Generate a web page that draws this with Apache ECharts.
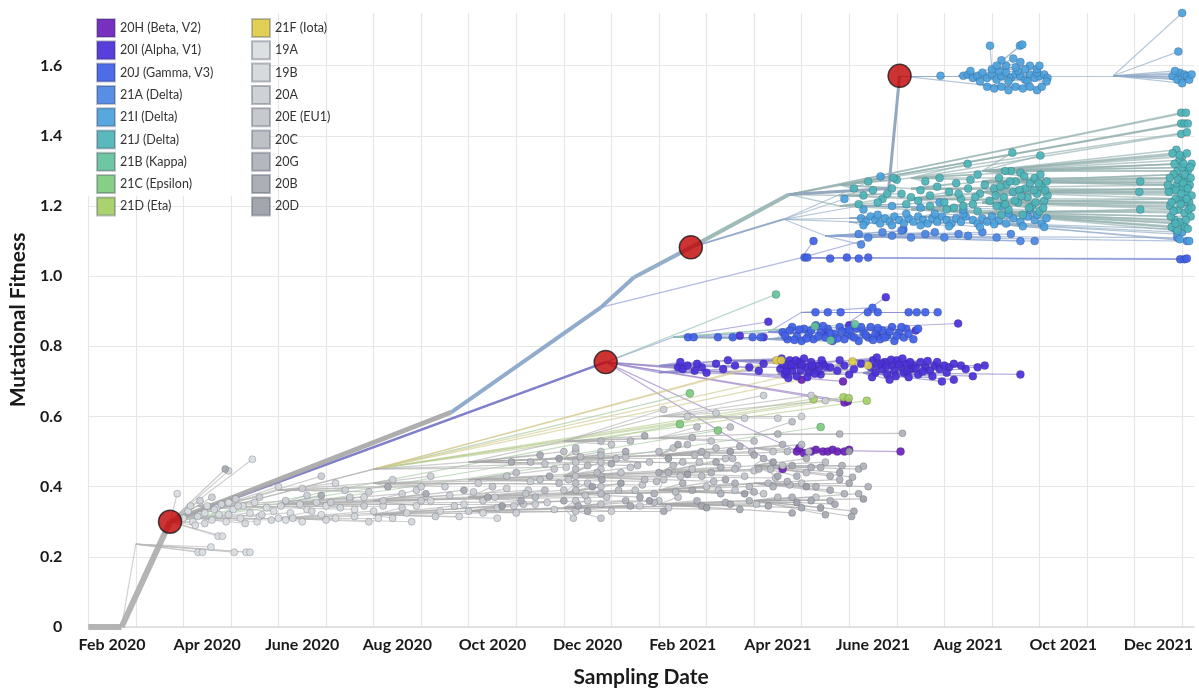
<!DOCTYPE html>
<html><head><meta charset="utf-8">
<script src="https://cdn.jsdelivr.net/npm/echarts@6/dist/echarts.min.js"></script>
<style>html,body{margin:0;padding:0;background:#fff}#c{width:1199px;height:693px}</style>
</head><body><div id="c"></div>
<script>
// x = months since 1 Jan 2020 (1 = 1 Feb 2020, 24 = 1 Jan 2022); y = mutational fitness
const xTickLabels = ['Feb 2020','Apr 2020','June 2020','Aug 2020','Oct 2020','Dec 2020','Feb 2021','Apr 2021','June 2021','Aug 2021','Oct 2021','Dec 2021'];
const xTickPos = [1.5,3.5,5.5,7.5,9.5,11.5,13.5,15.5,17.5,19.5,21.5,23.5];

const legendCol1 = ['20H (Beta, V2)','20I (Alpha, V1)','20J (Gamma, V3)','21A (Delta)','21I (Delta)','21J (Delta)','21B (Kappa)','21C (Epsilon)','21D (Eta)'];
const legendCol2 = ['21F (Iota)','19A','19B','20A','20E (EU1)','20C','20G','20B','20D'];

// internal tree nodes: name -> [x, y, parent, clade]
const treeNodes = {
 root:[1.0,0,null,'19A'], n1:[1.7,0,'root','19A'], red1:[2.72,0.30,'n1','19A'],
 red2:[11.88,0.755,'red1','20I (Alpha, V1)'], n4:[8.63,0.612,'red1','19A'],
 n5:[11.78,0.911,'n4','21A (Delta)'], n6:[12.47,0.996,'n5','21A (Delta)'], red3:[13.67,1.082,'n6','21A (Delta)'],
 n8:[15.73,1.233,'red3','21J (Delta)'], n9:[15.62,1.162,'red3','21I (Delta)'], n10:[17.83,1.25,'n8','21I (Delta)'],
 red4:[18.06,1.571,'n10','21I (Delta)'],
 e1:[2.0,0.236,'n1','19A'], u1:[7.0,0.45,'red1','20A'],
 g1a:[3.3,0.31,'red1','19A'], g1b:[3.3,0.345,'red1','19A'],
 g2a:[5.0,0.31,'g1a','19B'], g2b:[5.0,0.35,'g1b','19B'], g2c:[5.0,0.39,'red1','19B'],
 g3a:[7.0,0.32,'g2a','20A'], g3b:[7.0,0.36,'g2b','20A'], g3c:[7.0,0.41,'g2c','20A'], g3d:[7.0,0.45,'red1','20A'],
 g4a:[9.0,0.33,'g3a','20A'], g4b:[9.0,0.37,'g3b','20A'], g4c:[9.0,0.42,'g3c','20A'], g4d:[9.0,0.47,'g3d','20A'],
 g5a:[11.0,0.34,'g4a','20E (EU1)'], g5b:[11.0,0.38,'g4b','20E (EU1)'], g5c:[11.0,0.43,'g4c','20E (EU1)'], g5d:[11.0,0.48,'g4d','20E (EU1)'], g5e:[11.0,0.53,'g4d','20E (EU1)'],
 g6a:[13.0,0.35,'g5a','20C'], g6b:[13.0,0.39,'g5b','20C'], g6c:[13.0,0.44,'g5c','20C'], g6d:[13.0,0.49,'g5d','20C'], g6e:[13.0,0.54,'g5e','20C'], g6f:[13.0,0.60,'g5e','20C'],
 g7a:[15.0,0.36,'g6a','20G'], g7b:[15.0,0.41,'g6b','20G'], g7c:[15.0,0.46,'g6c','20G'], g7d:[15.0,0.51,'g6d','20G'], g7e:[15.0,0.55,'g6e','20G'],
 h1:[15.85,0.505,'red2','20H (Beta, V2)'],
 a1:[13.0,0.745,'red2','20I (Alpha, V1)'], a2:[13.0,0.725,'red2','20I (Alpha, V1)'], a3:[14.5,0.76,'a1','20I (Alpha, V1)'],
 a4:[15.5,0.74,'a1','20I (Alpha, V1)'], a5:[15.5,0.72,'a2','20I (Alpha, V1)'], a6:[17.3,0.745,'a4','20I (Alpha, V1)'],
 a7:[17.3,0.725,'a5','20I (Alpha, V1)'], a8:[17.0,0.76,'a4','20I (Alpha, V1)'],
 b1:[13.3,0.826,'red2','20J (Gamma, V3)'], b2:[15.3,0.84,'b1','20J (Gamma, V3)'], b3:[15.3,0.82,'b1','20J (Gamma, V3)'],
 b4:[16.8,0.85,'b2','20J (Gamma, V3)'], b5:[16.8,0.83,'b3','20J (Gamma, V3)'], b6:[16.0,0.897,'b2','20J (Gamma, V3)'],
 c1:[16.5,1.115,'n9','21A (Delta)'], c2:[16.0,1.053,'n5','20J (Gamma, V3)'],
 d1:[17.0,1.165,'n9','21I (Delta)'], d2:[17.0,1.155,'n9','21I (Delta)'], d3:[18.5,1.17,'d1','21I (Delta)'], d4:[18.5,1.155,'d2','21I (Delta)'],
 d5:[19.8,1.165,'d3','21I (Delta)'], d6:[19.8,1.152,'d4','21I (Delta)'], d7:[17.2,1.2,'n9','21I (Delta)'],
 r1:[19.3,1.571,'red4','21I (Delta)'], r2:[19.8,1.545,'red4','21I (Delta)'], r3:[20.0,1.59,'r1','21I (Delta)'], r4:[22.55,1.571,'r1','21I (Delta)'],
 j1:[16.8,1.26,'n8','21J (Delta)'], j2:[16.8,1.23,'n8','21J (Delta)'], j3:[16.8,1.20,'n8','21J (Delta)'],
 j4:[18.3,1.28,'j1','21J (Delta)'], j5:[18.3,1.25,'j1','21J (Delta)'], j6:[18.3,1.22,'j2','21J (Delta)'], j7:[18.3,1.19,'j3','21J (Delta)'],
 j8:[19.8,1.30,'j4','21J (Delta)'], j9:[19.8,1.27,'j5','21J (Delta)'], j10:[19.8,1.24,'j6','21J (Delta)'], j11:[19.8,1.21,'j7','21J (Delta)'], j12:[19.8,1.18,'j7','21J (Delta)']
};
const trunkNodes = ['n1','red1','red2','n4','n5','n6','red3','n8','n9','n10','red4'];
const highlightNodes = ['red1','red2','red3','red4'];

// sampled tips: [x, y, parent]
const tips19A = [[2.87,0.38,'red1'],[3.31,0.213,'e1'],[3.40,0.213,'e1'],[3.58,0.228,'e1'],[4.07,0.213,'e1'],[4.32,0.213,'e1'],[4.40,0.213,'e1'],[3.73,0.259,'red1'],[3.82,0.259,'red1'],[4.45,0.478,'red1'],
 [3.0,0.31,'red1'],[3.1,0.33,'red1'],[3.2,0.30,'red1'],[3.35,0.32,'red1'],[3.5,0.345,'red1'],[3.6,0.305,'g1a'],[3.75,0.32,'g1a'],[3.9,0.30,'g1a'],[4.05,0.335,'g1b'],[4.2,0.31,'g1a'],[4.4,0.325,'g1a'],[4.55,0.30,'g1a'],[4.75,0.34,'g1b'],[5.0,0.31,'g1a'],[5.25,0.325,'g1a'],[5.5,0.30,'g2a'],[5.9,0.32,'g2a'],
 [3.25,0.29,'red1'],[3.45,0.325,'red1'],[3.7,0.34,'g1b'],[3.95,0.355,'g1b'],[4.25,0.345,'g1b'],[4.6,0.315,'g1a'],[4.9,0.33,'g1b'],[5.15,0.305,'g2a'],[5.6,0.335,'g2b'],[6.2,0.31,'g2a'],
 [6.6,0.335,'g1b'],[7.1,0.31,'g1a'],[6.0,0.345,'g1b']];
const tips19B = [[3.15,0.345,'red1'],[3.3,0.315,'red1'],[3.45,0.295,'red1'],[3.65,0.335,'g1b'],[3.8,0.35,'g1b'],[3.95,0.32,'g1a'],[4.15,0.345,'g1b'],[4.3,0.295,'g1a'],[4.5,0.355,'g1b'],[4.65,0.32,'g1a'],[4.85,0.305,'g1a'],[5.05,0.345,'g1b'],[5.3,0.31,'g2a'],[5.45,0.35,'g2b'],[5.7,0.33,'g2a'],[6.0,0.305,'g2a'],[6.3,0.34,'g2b'],[6.6,0.315,'g2a'],[7.0,0.33,'g2a'],[7.4,0.31,'g3a'],[7.9,0.345,'g3b'],[8.4,0.33,'g3a'],[3.95,0.445,'red1'],[5.0,0.40,'red1'],[6.2,0.41,'g2c'],
 [5.8,0.355,'g2b'],[6.5,0.365,'g2b'],[6.9,0.30,'g2a'],[7.7,0.325,'g3a'],[8.8,0.315,'g3a'],[9.3,0.325,'g4a'],
 [6.8,0.37,'g1b'],[7.2,0.345,'g1b'],[7.8,0.30,'g2a'],[8.2,0.36,'g2b'],[8.9,0.35,'g2b'],[9.6,0.31,'g3a']];
const tips20A = [[3.35,0.36,'red1'],[3.6,0.37,'red1'],[4.1,0.365,'g1b'],[4.6,0.37,'g1b'],[5.15,0.36,'g2b'],[5.6,0.375,'g2b'],[6.1,0.355,'g2b'],[6.5,0.37,'g2b'],[6.8,0.345,'g2b'],[7.2,0.36,'g3b'],[7.6,0.34,'g3a'],[8.0,0.36,'g3b'],[8.3,0.315,'g3a'],[8.7,0.345,'g3a'],[9.0,0.33,'g3a'],[9.3,0.36,'g4b'],[9.6,0.34,'g4a'],[10.0,0.325,'g4a'],[10.4,0.35,'g4a'],[10.8,0.335,'g4a'],[11.2,0.31,'g5a'],[11.5,0.36,'g5a'],[12.0,0.33,'g5a'],[12.6,0.345,'g5a'],[13.2,0.34,'g6a'],[5.9,0.43,'red1'],[7.4,0.42,'g3c'],[8.2,0.43,'g3c'],
 [13.1,0.62,'g5e'],[13.6,0.60,'g6f'],[14.2,0.61,'g6f'],[14.8,0.595,'g6f'],[15.5,0.595,'g6f'],[16.0,0.60,'g6f'],[15.2,0.66,'g6f'],[16.2,0.66,'g6f'],[16.5,0.645,'g6f'],
 [7.9,0.39,'g3b'],[8.5,0.40,'g3c'],[9.1,0.385,'g4b'],[9.8,0.395,'g4b'],[10.3,0.415,'g4c'],[6.4,0.39,'g2c'],[5.5,0.395,'g2c'],
 [9.2,0.41,'g2c'],[9.55,0.37,'g2b'],[9.95,0.345,'g2a'],[10.25,0.39,'g3b'],[10.65,0.355,'g3a'],[11.05,0.455,'g3d'],[8.6,0.375,'g2b'],[8.0,0.40,'g2c'],[7.6,0.38,'g2b'],[6.9,0.385,'g2c']];
const tips20E = [[9.5,0.40,'g4b'],[9.8,0.43,'g4c'],[10.2,0.38,'g4b'],[10.5,0.42,'g4c'],[10.8,0.45,'g4c'],[11.0,0.39,'g4b'],[11.25,0.47,'g5d'],[11.25,0.43,'g5c'],[11.25,0.36,'g5a'],[11.5,0.41,'g5b'],[11.78,0.50,'g5d'],[11.78,0.45,'g5c'],[11.78,0.40,'g5b'],[11.78,0.35,'g5a'],[12.2,0.44,'g5c'],[12.5,0.39,'g5b'],[12.8,0.47,'g5d'],[13.1,0.42,'g6b'],[13.4,0.37,'g6a'],[13.7,0.45,'g6c'],[14.0,0.40,'g6b'],[14.4,0.48,'g6c'],[14.8,0.43,'g6c'],[15.2,0.38,'g6b'],[15.6,0.46,'g7c'],[16.0,0.41,'g7b'],
 [11.25,0.50,'g5d'],[11.25,0.33,'g5a'],[11.78,0.47,'g5c'],[11.78,0.31,'g5a'],[12.0,0.52,'g5e'],[12.4,0.455,'g5c'],[13.3,0.51,'g6d'],[14.1,0.53,'g6e'],[14.6,0.39,'g6b'],[15.0,0.445,'g6c'],[15.4,0.50,'g7d'],[16.3,0.37,'g7a'],
 [10.15,0.35,'g2b'],[10.6,0.465,'g3d'],[11.1,0.42,'g3c'],[11.45,0.375,'g2b'],[11.9,0.37,'g3b'],[12.3,0.485,'g4d'],[12.65,0.405,'g3c'],[13.0,0.36,'g2b'],[13.45,0.43,'g4c'],[13.85,0.47,'g4d'],[14.25,0.39,'g4b'],[14.65,0.46,'g5d'],[15.05,0.35,'g4a'],[15.45,0.425,'g5c']];
const tips20C = [[10.0,0.44,'g4c'],[10.3,0.47,'g4d'],[10.6,0.39,'g4b'],[11.0,0.50,'g4d'],[11.25,0.51,'g5d'],[11.25,0.39,'g5b'],[11.5,0.46,'g5c'],[11.78,0.53,'g5e'],[11.78,0.38,'g5b'],[12.1,0.48,'g5d'],[12.4,0.53,'g5e'],[12.7,0.42,'g5c'],[13.0,0.50,'g5d'],[13.3,0.46,'g6c'],[13.6,0.52,'g6d'],[13.9,0.43,'g6c'],[14.2,0.51,'g6d'],[14.6,0.45,'g6c'],[15.0,0.53,'g6e'],[15.3,0.41,'g7b'],[15.7,0.50,'g7d'],[16.1,0.44,'g7c'],[16.5,0.47,'g7c'],[13.8,0.57,'g6e'],[14.5,0.57,'g6e'],[15.8,0.585,'g7e'],
 [11.25,0.45,'g5c'],[11.25,0.41,'g5b'],[11.78,0.43,'g5c'],[11.78,0.49,'g5d'],[12.9,0.355,'g6a'],[13.5,0.47,'g6c'],[14.0,0.49,'g6d'],[14.9,0.40,'g7b'],[15.5,0.37,'g7a'],[16.0,0.52,'g7d'],
 [10.4,0.37,'g3b'],[10.9,0.41,'g3c'],[11.35,0.485,'g4d'],[11.7,0.44,'g4c'],[12.15,0.39,'g4b'],[12.55,0.46,'g4d'],[12.95,0.415,'g4c'],[13.35,0.385,'g4b'],[13.75,0.49,'g5d'],[14.15,0.415,'g5c'],[14.55,0.48,'g5d'],[14.95,0.5,'g5d'],[15.35,0.45,'g6c'],[15.75,0.405,'g6b'],[16.15,0.5,'g6d']];
const tips20G = [[12.3,0.36,'g5a'],[12.9,0.38,'g5b'],[13.5,0.41,'g6b'],[13.8,0.36,'g6a'],[14.1,0.44,'g6c'],[14.3,0.38,'g6b'],[14.6,0.41,'g6b'],[14.9,0.36,'g6a'],[15.1,0.45,'g7c'],[15.4,0.40,'g7b'],[15.8,0.37,'g7a'],[16.1,0.48,'g7c'],[16.3,0.40,'g7b'],[16.6,0.43,'g7c'],[16.9,0.38,'g7b'],[17.2,0.45,'g7c'],[17.4,0.40,'g7b'],[16.85,0.46,'g7c'],[17.07,0.427,'g7c'],[17.3,0.458,'g7c'],[16.4,0.455,'g7c'],[15.5,0.55,'g7e'],[16.8,0.55,'g7e'],[18.12,0.552,'g7e'],
 [13.2,0.44,'g6c'],[13.9,0.50,'g6d'],[14.4,0.355,'g6a'],[15.2,0.48,'g7c'],[15.9,0.43,'g7c'],[16.6,0.36,'g7a'],[14.7,0.515,'g6d'],[15.6,0.52,'g7d'],
 [15.0,0.385,'g5b'],[15.7,0.415,'g6b'],[16.2,0.455,'g6c'],[16.8,0.42,'g7b'],[17.2,0.38,'g7a'],[14.3,0.455,'g5c'],[13.7,0.54,'g5e']];
const tips20B = [[3.88,0.45,'red1'],[5.9,0.375,'g2b'],[7.3,0.40,'g3c'],[8.1,0.38,'g3b'],[8.9,0.39,'g3b'],[9.4,0.37,'g4b'],[10.1,0.36,'g4b'],[10.7,0.43,'g4c'],[11.3,0.345,'g5a'],[11.8,0.42,'g5c'],[12.3,0.50,'g5d'],[12.6,0.37,'g5b'],[13.0,0.44,'g5c'],[13.4,0.52,'g6d'],[13.7,0.39,'g6b'],[14.2,0.47,'g6c'],[14.5,0.35,'g6a'],[15.0,0.49,'g6d'],[15.5,0.43,'g7c'],[16.2,0.36,'g7a'],[16.7,0.35,'g7a'],[17.1,0.33,'g7a'],
 [9.9,0.47,'g4d'],[10.5,0.49,'g4d'],[12.0,0.465,'g5d'],[12.7,0.545,'g5e'],[14.4,0.42,'g6b'],[15.8,0.46,'g7c'],
 [11.0,0.36,'g3a'],[11.5,0.33,'g3a'],[12.4,0.345,'g4a'],[13.1,0.33,'g4a'],[13.9,0.345,'g5a'],[14.7,0.335,'g5a'],[15.3,0.345,'g6a'],[16.0,0.34,'g6a'],[16.6,0.39,'g7b'],[17.0,0.41,'g7b'],
 [15.8,0.325,'g6a'],[16.5,0.32,'g7a'],[17.05,0.315,'g7a']];
const tips20D = [[9.7,0.345,'g4a'],[10.9,0.48,'g4d'],[11.6,0.40,'g5b'],[12.2,0.41,'g5b'],[13.2,0.48,'g6d'],[14.0,0.34,'g6a'],[14.8,0.38,'g6b'],[15.4,0.47,'g7c'],[16.4,0.34,'g7a'],[17.3,0.365,'g7a'],[16.1,0.40,'g7b'],[17.0,0.50,'g7d'],
 [12.8,0.36,'g5a'],[13.6,0.435,'g5c'],[14.5,0.50,'g6d'],[15.9,0.355,'g6a'],[16.8,0.44,'g7c']];
const tips20H = [[15.9,0.50,'h1'],[15.95,0.51,'h1'],[16.05,0.495,'h1'],[16.2,0.50,'h1'],[16.3,0.505,'h1'],[16.45,0.50,'h1'],[16.55,0.50,'h1'],[16.65,0.505,'h1'],[16.75,0.50,'h1'],[16.9,0.50,'h1'],[17.0,0.505,'h1'],[18.08,0.50,'h1'],[15.6,0.45,'red2'],[16.97,0.643,'red2'],[16.9,0.64,'red2'],[16.0,0.705,'red2'],[16.87,0.70,'red2']];
const tips21B = [[15.46,0.948,'red2'],[16.28,0.857,'b1'],[16.61,0.817,'b1'],[17.12,0.863,'b1']];
const tips21C = [[13.44,0.578,'red1'],[14.24,0.56,'red1'],[16.4,0.57,'red1'],[13.65,0.666,'u1']];
const tips21D = [[16.25,0.65,'u1'],[16.88,0.655,'u1'],[16.99,0.652,'u1'],[17.37,0.645,'u1']];
const tips21F = [[15.47,0.76,'u1'],[15.57,0.76,'u1'],[17.07,0.757,'u1'],[17.4,0.745,'u1']];
const tips20J = [[13.61,0.826,'b1'],[13.73,0.826,'b1'],[14.24,0.826,'b1'],[14.55,0.826,'b1'],[14.97,0.826,'b1'],[15.14,0.826,'b1'],
 [15.6,0.84,'b2'],[15.7,0.82,'b3'],[15.8,0.855,'b2'],[15.9,0.83,'b3'],[16.0,0.815,'b3'],[16.05,0.85,'b2'],[16.15,0.835,'b2'],[16.25,0.82,'b3'],[16.3,0.86,'b2'],[16.4,0.84,'b2'],[16.5,0.825,'b3'],[16.55,0.85,'b2'],[16.65,0.815,'b3'],[16.7,0.835,'b3'],[16.8,0.855,'b2'],[16.9,0.82,'b5'],[16.95,0.84,'b4'],[17.05,0.83,'b5'],[17.15,0.85,'b4'],[17.2,0.815,'b5'],[17.3,0.84,'b4'],[17.4,0.825,'b5'],[17.45,0.855,'b4'],[17.55,0.835,'b5'],[17.65,0.82,'b5'],[17.7,0.845,'b4'],[17.8,0.83,'b5'],[17.9,0.855,'b4'],[17.95,0.815,'b5'],[18.05,0.84,'b4'],[18.15,0.825,'b5'],[18.2,0.85,'b4'],
 [15.65,0.83,'b3'],[15.75,0.845,'b2'],[15.85,0.818,'b3'],[15.95,0.848,'b2'],[16.1,0.822,'b3'],[16.2,0.845,'b2'],[16.35,0.828,'b3'],[16.45,0.858,'b2'],[16.6,0.838,'b2'],[16.75,0.822,'b3'],[16.85,0.842,'b4'],[17.0,0.848,'b4'],[17.1,0.825,'b5'],[17.25,0.855,'b4'],[17.35,0.832,'b5'],[17.5,0.818,'b5'],[17.6,0.852,'b4'],[17.75,0.825,'b5'],[17.85,0.842,'b4'],[18.0,0.83,'b5'],[18.1,0.855,'b4'],[18.25,0.835,'b5'],[18.35,0.82,'b5'],[18.45,0.85,'b4'],
 [16.29,0.897,'b6'],[16.55,0.897,'b6'],[16.82,0.897,'b6'],[17.39,0.897,'b6'],[17.6,0.897,'b6'],[18.25,0.897,'b6'],[18.42,0.897,'b6'],[18.6,0.897,'b6'],[18.86,0.897,'b6'],[17.49,0.91,'b6'],
 [16.06,1.053,'c2'],[16.12,1.053,'c2'],[16.6,1.05,'c2'],[16.95,1.053,'c2'],[17.2,1.05,'c2'],[17.4,1.053,'c2'],[23.96,1.048,'c2'],[24.05,1.048,'c2'],[24.1,1.05,'c2'],[16.25,1.10,'c2'],[18.14,1.133,'c2']];
const tips20I = [[13.4,0.74,'a1'],[13.5,0.735,'a2'],[13.6,0.745,'a1'],[13.75,0.73,'a2'],[13.9,0.74,'a1'],[14.2,0.75,'a1'],[14.35,0.735,'a2'],[14.6,0.745,'a1'],[14.9,0.74,'a1'],[15.1,0.73,'a2'],[15.2,0.75,'a3'],[13.45,0.755,'a1'],[14.0,0.725,'a2'],[14.45,0.76,'a1'],[13.8,0.75,'a1'],
 [15.55,0.735,'a4'],[15.6,0.75,'a3'],[15.65,0.72,'a5'],[15.7,0.74,'a4'],[15.75,0.76,'a3'],[15.8,0.73,'a5'],[15.85,0.745,'a4'],[15.9,0.715,'a5'],[15.95,0.755,'a3'],[16.1,0.74,'a4'],[16.15,0.725,'a5'],[16.2,0.755,'a3'],[16.25,0.735,'a4'],[16.3,0.745,'a4'],[16.4,0.72,'a5'],[16.45,0.75,'a3'],
 [15.58,0.765,'a3'],[15.68,0.728,'a5'],[15.78,0.748,'a4'],[15.88,0.76,'a3'],[15.98,0.732,'a5'],[16.05,0.765,'a3'],[16.12,0.712,'a5'],[16.22,0.745,'a4'],[16.35,0.73,'a5'],[16.42,0.76,'a3'],[16.5,0.742,'a4'],[16.0,0.748,'a4'],[15.72,0.71,'a5'],[16.28,0.722,'a5'],
 [16.6,0.74,'a4'],[16.75,0.73,'a5'],[16.9,0.745,'a4'],[17.1,0.735,'a5'],[17.25,0.75,'a4'],[16.8,0.76,'a4'],[17.0,0.72,'a5'],
 [17.45,0.74,'a6'],[17.5,0.76,'a8'],[17.55,0.725,'a7'],[17.6,0.745,'a6'],[17.7,0.735,'a7'],[17.75,0.755,'a8'],[17.8,0.72,'a7'],[17.9,0.745,'a6'],[17.95,0.73,'a7'],[18.0,0.76,'a8'],[18.1,0.74,'a6'],[18.15,0.725,'a7'],[18.2,0.75,'a6'],[18.3,0.735,'a7'],[18.35,0.745,'a6'],[18.45,0.72,'a7'],[18.5,0.755,'a8'],[18.6,0.74,'a6'],[18.7,0.73,'a7'],[18.8,0.745,'a6'],[18.9,0.735,'a7'],
 [17.48,0.712,'a7'],[17.58,0.768,'a8'],[17.68,0.75,'a6'],[17.78,0.742,'a6'],[17.88,0.762,'a8'],[17.98,0.715,'a7'],[18.05,0.748,'a6'],[18.12,0.765,'a8'],[18.22,0.728,'a7'],[18.28,0.755,'a8'],[18.4,0.738,'a6'],[18.55,0.728,'a7'],[18.65,0.758,'a8'],[18.75,0.715,'a7'],[18.85,0.755,'a8'],[18.25,0.712,'a7'],[17.85,0.705,'a7'],
 [19.0,0.745,'a6'],[19.1,0.74,'a6'],[19.2,0.75,'a6'],[19.45,0.735,'a7'],[18.95,0.70,'a7'],[19.6,0.715,'a7'],[19.2,0.705,'a7'],[20.6,0.72,'a7'],[19.35,0.745,'a6'],[19.7,0.74,'a6'],[19.85,0.745,'a6'],[19.05,0.725,'a7'],
 [19.29,0.865,'b4'],[17.77,0.94,'b4'],[16.5,0.84,'b2'],[17.0,0.86,'b4'],[17.6,0.83,'b5'],[18.4,0.845,'b4'],[15.3,0.87,'b1'],[15.2,0.826,'b1'],[14.7,0.83,'b1']];
const tips21A = [[17.2,1.12,'c1'],[17.4,1.11,'c1'],[17.7,1.125,'c1'],[17.9,1.115,'c1'],[18.1,1.13,'c1'],[18.3,1.11,'c1'],[18.6,1.12,'c1'],[18.8,1.125,'c1'],[19.0,1.11,'c1'],[19.3,1.12,'c1'],[19.5,1.115,'c1'],[19.8,1.125,'c1'],[20.1,1.11,'c1'],[20.4,1.12,'c1'],[20.6,1.10,'c1'],[20.9,1.10,'c1'],[23.9,1.11,'c1'],[24.1,1.10,'c1'],[17.25,1.09,'c1']];
const tips21I = [[17.25,1.165,'d1'],[17.35,1.155,'d2'],[17.45,1.17,'d1'],[17.55,1.16,'d1'],[17.65,1.15,'d2'],[17.75,1.165,'d1'],[17.85,1.155,'d2'],[17.95,1.17,'d1'],[18.05,1.16,'d1'],[18.15,1.15,'d2'],[18.25,1.165,'d1'],[18.35,1.155,'d2'],[18.45,1.17,'d1'],[18.55,1.16,'d3'],[18.65,1.15,'d4'],[18.75,1.165,'d3'],[18.85,1.155,'d4'],[18.95,1.17,'d3'],[19.05,1.16,'d3'],[19.15,1.15,'d4'],[19.25,1.165,'d3'],[19.35,1.155,'d4'],[19.45,1.17,'d3'],[19.6,1.16,'d3'],[19.7,1.15,'d4'],[19.8,1.165,'d3'],[19.9,1.155,'d6'],[20.0,1.17,'d5'],[20.15,1.16,'d5'],[20.3,1.15,'d6'],[20.45,1.165,'d5'],[20.6,1.155,'d6'],[20.75,1.17,'d5'],[20.9,1.16,'d5'],[21.05,1.15,'d6'],[21.15,1.165,'d5'],
 [17.3,1.145,'d2'],[17.6,1.175,'d1'],[17.9,1.145,'d2'],[18.2,1.178,'d1'],[18.5,1.145,'d4'],[18.8,1.178,'d3'],[19.1,1.142,'d4'],[19.4,1.178,'d3'],[19.75,1.14,'d4'],[20.05,1.148,'d6'],[20.35,1.178,'d5'],[20.65,1.142,'d6'],[20.95,1.175,'d5'],[21.1,1.14,'d6'],
 [17.3,1.19,'d7'],[17.9,1.2,'d7'],[18.5,1.195,'d7'],[18.9,1.21,'d7'],[19.4,1.19,'d7'],[20.2,1.2,'d7'],[20.8,1.19,'d7'],[17.66,1.284,'n9'],[16.9,1.22,'n9'],
 [18.92,1.571,'red4'],[19.4,1.571,'red4'],[19.5,1.575,'r1'],[19.6,1.565,'r1'],[19.7,1.57,'r1'],[19.8,1.58,'r1'],[19.9,1.565,'r1'],[20.0,1.575,'r1'],[20.1,1.56,'r1'],[20.2,1.57,'r1'],[20.3,1.58,'r1'],[20.4,1.565,'r1'],[20.5,1.575,'r1'],[20.6,1.57,'r1'],[20.7,1.56,'r1'],[20.8,1.575,'r1'],[20.9,1.565,'r1'],[21.0,1.57,'r1'],[21.1,1.575,'r1'],[21.17,1.565,'r1'],
 [19.55,1.585,'r1'],[19.75,1.555,'r1'],[20.15,1.585,'r1'],[20.35,1.555,'r1'],[20.55,1.585,'r1'],[20.75,1.555,'r1'],[20.95,1.58,'r1'],[21.15,1.555,'r1'],
 [20.0,1.59,'r3'],[20.3,1.6,'r3'],[20.5,1.595,'r3'],[20.6,1.61,'r3'],[20.8,1.6,'r3'],[20.95,1.59,'r3'],[20.2,1.615,'r3'],[20.45,1.62,'r3'],[20.1,1.6,'r3'],[20.7,1.59,'r3'],[21.0,1.6,'r3'],
 [19.9,1.54,'r2'],[20.05,1.535,'r2'],[20.2,1.54,'r2'],[20.35,1.53,'r2'],[20.5,1.54,'r2'],[20.65,1.535,'r2'],[20.8,1.54,'r2'],[20.95,1.53,'r2'],[21.05,1.54,'r2'],
 [19.96,1.657,'r3'],[20.59,1.657,'r3'],[20.64,1.66,'r3'],
 [23.8,1.57,'r4'],[23.9,1.56,'r4'],[23.95,1.58,'r4'],[24.0,1.565,'r4'],[24.05,1.575,'r4'],[24.1,1.57,'r4'],[24.15,1.56,'r4'],[23.85,1.585,'r4'],[24.0,1.55,'r4'],[24.2,1.575,'r4'],[24.0,1.75,'r4'],[23.92,1.64,'r4'],
 [23.9,1.12,'d6'],[23.85,1.135,'d6'],[24.0,1.125,'d6'],[23.95,1.105,'d6'],[24.15,1.1,'d6']];
const tips21J = [[17.3,1.23,'j2'],[17.5,1.245,'j2'],[17.7,1.22,'j3'],[17.9,1.25,'j1'],[18.1,1.235,'j2'],[18.3,1.225,'j2'],[18.5,1.245,'j5'],[17.4,1.27,'j1'],[18.0,1.275,'j1'],[18.6,1.27,'j4'],
 [17.2,1.205,'j3'],[17.6,1.21,'j3'],[17.8,1.235,'j2'],[18.2,1.205,'j3'],[18.45,1.215,'j6'],[17.1,1.25,'j1'],[18.7,1.2,'j7'],
 [18.7,1.23,'j6'],[18.85,1.255,'j5'],[19.0,1.21,'j6'],[19.1,1.24,'j6'],[19.25,1.265,'j5'],[19.35,1.22,'j6'],[19.5,1.25,'j5'],[19.6,1.205,'j7'],[19.75,1.235,'j6'],[19.85,1.26,'j9'],[19.95,1.215,'j11'],[19.2,1.195,'j7'],[19.7,1.185,'j7'],
 [18.9,1.28,'j4'],[19.3,1.235,'j6'],[19.55,1.275,'j4'],[19.65,1.225,'j6'],[19.05,1.19,'j7'],[19.4,1.2,'j7'],
 [20.05,1.25,'j10'],[20.1,1.2,'j11'],[20.15,1.28,'j9'],[20.25,1.225,'j10'],[20.3,1.26,'j9'],[20.35,1.19,'j12'],[20.45,1.24,'j10'],[20.5,1.27,'j9'],[20.55,1.21,'j11'],[20.6,1.295,'j8'],[20.65,1.175,'j12'],[20.7,1.25,'j10'],[20.75,1.225,'j10'],[20.8,1.265,'j9'],[20.85,1.2,'j11'],[20.9,1.28,'j9'],[20.95,1.235,'j10'],[21.0,1.185,'j12'],[21.05,1.255,'j10'],[21.1,1.215,'j11'],[21.15,1.27,'j9'],[21.17,1.23,'j10'],[20.4,1.3,'j8'],[20.2,1.175,'j12'],
 [20.08,1.23,'j10'],[20.18,1.255,'j9'],[20.28,1.205,'j11'],[20.38,1.27,'j9'],[20.48,1.215,'j11'],[20.58,1.245,'j10'],[20.68,1.285,'j8'],[20.78,1.195,'j11'],[20.88,1.245,'j10'],[20.98,1.265,'j9'],[21.08,1.195,'j11'],[21.12,1.245,'j10'],[20.62,1.228,'j10'],[20.92,1.21,'j11'],
 [20.43,1.352,'j8'],[21.02,1.344,'j8'],[19.49,1.32,'j4'],[19.7,1.29,'j4'],[20.28,1.30,'j8'],[21.02,1.29,'j8'],[23.12,1.27,'j9'],[23.12,1.19,'j12'],[17.93,1.28,'j1'],
 [23.75,1.2,'j11'],[23.8,1.25,'j5'],[23.85,1.16,'j12'],[23.9,1.3,'j8'],[23.95,1.22,'j6'],[24.0,1.34,'j8'],[24.05,1.18,'j7'],[24.1,1.27,'j9'],[24.15,1.21,'j11'],[24.2,1.32,'j8'],[23.78,1.14,'j12'],[23.88,1.36,'j8'],[23.92,1.19,'j12'],[23.98,1.28,'j4'],[24.02,1.15,'j7'],[24.08,1.24,'j10'],[24.12,1.30,'j8'],[24.18,1.17,'j12'],[23.82,1.29,'j9'],[23.86,1.22,'j11'],[23.94,1.33,'j8'],[24.04,1.21,'j6'],[24.1,1.35,'j8'],[24.16,1.26,'j9'],[24.2,1.23,'j10'],[23.76,1.17,'j7'],[23.9,1.26,'j5'],[24.0,1.31,'j8'],[24.06,1.14,'j12'],[24.14,1.19,'j11'],[23.84,1.32,'j4'],[23.96,1.155,'j12'],[24.1,1.22,'j10'],[24.0,1.25,'j10'],[23.9,1.13,'j12'],[24.06,1.29,'j9'],[24.18,1.28,'j9'],[23.8,1.35,'j8'],
 [23.72,1.24,'j10'],[23.74,1.28,'j9'],[23.78,1.21,'j6'],[23.82,1.185,'j12'],[23.87,1.245,'j5'],[23.92,1.275,'j9'],[23.97,1.205,'j11'],[24.02,1.265,'j9'],[24.03,1.32,'j8'],[24.08,1.16,'j12'],[24.12,1.25,'j10'],[24.17,1.31,'j8'],[24.2,1.195,'j11'],[23.95,1.345,'j8'],[23.86,1.15,'j7'],[24.12,1.135,'j12'],[23.7,1.26,'j9'],[23.98,1.235,'j10'],[23.1,1.24,'j10'],
 [23.98,1.466,'n8'],[24.08,1.466,'n8'],[23.98,1.435,'j1'],[24.05,1.435,'n8'],[24.12,1.435,'j1'],[23.98,1.405,'j4'],[24.1,1.41,'j1']];

const tipsByClade = {
 '20H (Beta, V2)': tips20H, '20I (Alpha, V1)': tips20I, '20J (Gamma, V3)': tips20J, '21A (Delta)': tips21A,
 '21I (Delta)': tips21I, '21J (Delta)': tips21J, '21B (Kappa)': tips21B, '21C (Epsilon)': tips21C, '21D (Eta)': tips21D,
 '21F (Iota)': tips21F, '19A': tips19A, '19B': tips19B, '20A': tips20A, '20E (EU1)': tips20E, '20C': tips20C,
 '20G': tips20G, '20B': tips20B, '20D': tips20D
};

// ---- styles ----
const dotColor = {
 '20H (Beta, V2)':'#6a21b8','20I (Alpha, V1)':'#4a2fd8','20J (Gamma, V3)':'#3f5fe6','21A (Delta)':'#4a84e2',
 '21I (Delta)':'#4aa1dc','21J (Delta)':'#4bb3b6','21B (Kappa)':'#62c29a','21C (Epsilon)':'#7dca7c','21D (Eta)':'#a3cf63',
 '21F (Iota)':'#e0cb48','19A':'#d9dddf','19B':'#d3d7da','20A':'#cacdd1','20E (EU1)':'#c1c4c9','20C':'#b8bcc1',
 '20G':'#aeb1b8','20B':'#a5a8af','20D':'#9b9ea6'
};
const grayClades = new Set(['19A','19B','20A','20E (EU1)','20C','20G','20B','20D']);
const lineColor = {
 '20H (Beta, V2)':'#9a7cc4','20I (Alpha, V1)':'#8b87c9','20J (Gamma, V3)':'#8893d6','21A (Delta)':'#8ea6d0',
 '21I (Delta)':'#8fa9c4','21J (Delta)':'#94b1af','21B (Kappa)':'#90c4ae','21C (Epsilon)':'#a2c89e','21D (Eta)':'#b8cc92',
 '21F (Iota)':'#d2c98e','19A':'#b8b8b8','19B':'#b5b5b5','20A':'#b2b2b2','20E (EU1)':'#b0b0b0','20C':'#adadad',
 '20G':'#ababab','20B':'#a8a8a8','20D':'#a5a5a5'
};
const lineWidth = {'21J (Delta)':1.5,'21I (Delta)':1.2,'20I (Alpha, V1)':1.2};
const trunkStyle = {n1:['#b0b0b0',6],red1:['#b0b0b0',6],red2:['#7878c8',2.5],n4:['#aaaaaa',5],n5:['#8aa6c8',4],n6:['#8aa6c8',4],
 red3:['#8fabc4',4],n8:['#9ab6b4',4],n9:['#90a8c8',2],n10:['#8ea4bc',3],red4:['#8ea4bc',3]};

const cladeOrder = legendCol1.concat(legendCol2);
const trunkSet = new Set(trunkNodes);
const series = [];

cladeOrder.forEach(c => {
  const edges = [];
  Object.keys(treeNodes).forEach(k => {
    const n = treeNodes[k];
    if (n[3] === c && n[2] && !trunkSet.has(k)) {
      const p = treeNodes[n[2]];
      edges.push({coords: [[p[0], p[1]], [n[0], n[1]]]});
    }
  });
  tipsByClade[c].forEach(t => {
    const p = treeNodes[t[2]];
    edges.push({coords: [[p[0], p[1]], [t[0], t[1]]]});
  });
  series.push({
    name: '_edges ' + c, type: 'lines', coordinateSystem: 'cartesian2d', silent: true, z: 2,
    lineStyle: {color: lineColor[c], width: lineWidth[c] || 1.2, opacity: 0.65, curveness: 0}, data: edges
  });
});

series.push({
  name: '_trunk', type: 'lines', coordinateSystem: 'cartesian2d', silent: true, z: 3, clip: false,
  data: trunkNodes.map(k => {
    const n = treeNodes[k], p = treeNodes[n[2]];
    return {coords: [[p[0], p[1]], [n[0], n[1]]], lineStyle: {color: trunkStyle[k][0], width: trunkStyle[k][1], opacity: 0.95}};
  })
});

cladeOrder.forEach(c => {
  const gray = grayClades.has(c);
  series.push({
    name: c, type: 'scatter', symbol: 'circle', symbolSize: gray ? 7 : 8, z: 4, silent: true,
    itemStyle: {color: dotColor[c], borderColor: gray ? 'rgba(90,95,110,0.45)' : 'rgba(40,40,70,0.3)', borderWidth: 0.8, opacity: 0.92},
    data: tipsByClade[c].map(t => [t[0], t[1]])
  });
});

series.push({
  name: '_nodes', type: 'scatter', symbol: 'circle', symbolSize: 23, z: 6, silent: true,
  itemStyle: {color: '#c00000', borderColor: '#1a1a1a', borderWidth: 1.5},
  data: highlightNodes.map(k => [treeNodes[k][0], treeNodes[k][1]])
});

const legendBase = {
  orient: 'vertical', top: 13, itemWidth: 18, itemHeight: 18, itemGap: 2.3, icon: 'rect',
  textStyle: {fontFamily: 'Lato', fontSize: 12.5, color: '#333'}, selectedMode: false, z: 10
};

const chart = echarts.init(document.getElementById('c'), null, {renderer: 'canvas'});
chart.setOption({
  animation: false,
  backgroundColor: '#fff',
  grid: {left: 87, right: 5, top: 13, bottom: 65, containLabel: false},
  graphic: [{type: 'rect', left: 84, top: 4, z: 5, shape: {width: 184, height: 192},
    style: {fill: 'rgba(255,255,255,0.9)'}}],
  legend: [
    Object.assign({}, legendBase, {left: 91, data: legendCol1}),
    Object.assign({}, legendBase, {left: 246, data: legendCol2})
  ],
  xAxis: {
    type: 'value', min: 1, max: 24.25, interval: 1,
    name: 'Sampling Date', nameLocation: 'middle', nameGap: 40,
    nameTextStyle: {fontFamily: 'Lato', fontWeight: 'bold', fontSize: 21, color: '#1a1a1a'},
    axisLine: {show: true, lineStyle: {color: '#dcdcdc', width: 1.5}},
    axisTick: {show: false},
    splitLine: {show: true, showMaxLine: false, lineStyle: {color: '#e6e6e6', width: 1.2}},
    axisLabel: {
      customValues: xTickPos, margin: 10,
      fontFamily: 'Lato', fontWeight: 'bold', fontSize: 16, color: '#1a1a1a',
      formatter: v => xTickLabels[Math.round((v - xTickPos[0]) / 2)]
    }
  },
  yAxis: {
    type: 'value', min: 0, max: 1.75, interval: 0.2,
    name: 'Mutational Fitness', nameLocation: 'middle', nameGap: 52, nameRotate: 90,
    nameTextStyle: {fontFamily: 'Lato', fontWeight: 'bold', fontSize: 21, color: '#1a1a1a'},
    axisLine: {show: false}, axisTick: {show: false},
    splitLine: {show: true, showMaxLine: false, lineStyle: {color: '#e6e6e6', width: 1.2}},
    axisLabel: {
      showMaxLabel: false, margin: 26,
      fontFamily: 'Lato', fontWeight: 'bold', fontSize: 16, color: '#1a1a1a',
      formatter: v => v === 0 ? '0' : v.toFixed(1)
    }
  },
  series: series
});
</script></body></html>
